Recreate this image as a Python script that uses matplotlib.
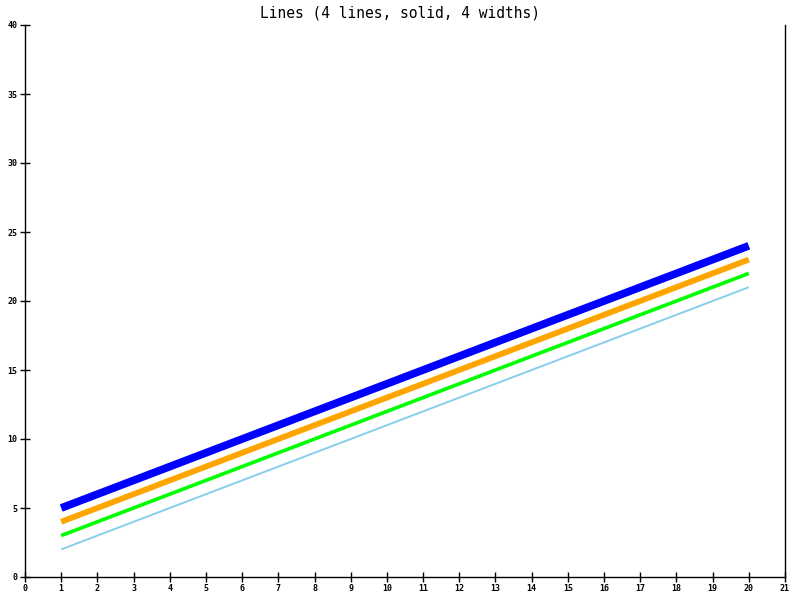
import matplotlib
matplotlib.use("Agg")
import matplotlib.pyplot as plt

x = [1, 2, 3, 4, 5, 6, 7, 8, 9, 10, 11, 12, 13, 14, 15, 16, 17, 18, 19, 20]
skyblue_vals = [2, 3, 4, 5, 6, 7, 8, 9, 10, 11, 12, 13, 14, 15, 16, 17, 18, 19, 20, 21]
green_vals = [3, 4, 5, 6, 7, 8, 9, 10, 11, 12, 13, 14, 15, 16, 17, 18, 19, 20, 21, 22]
orange_vals = [4, 5, 6, 7, 8, 9, 10, 11, 12, 13, 14, 15, 16, 17, 18, 19, 20, 21, 22, 23]
blue_vals = [5, 6, 7, 8, 9, 10, 11, 12, 13, 14, 15, 16, 17, 18, 19, 20, 21, 22, 23, 24]

x_ticks = list(range(0, 22))
y_ticks = [0, 5, 10, 15, 20, 25, 30, 35, 40]
title = "Lines (4 lines, solid, 4 widths)"

fig = plt.figure(figsize=(8, 6), dpi=100)
ax = fig.add_axes([25 / 800, 23 / 600, 760 / 800, 552 / 600])

ax.plot(x, skyblue_vals, color="#87ceeb", lw=1.4, solid_capstyle="butt")
ax.plot(x, green_vals, color="#00ff00", lw=2.6, solid_capstyle="butt")
ax.plot(x, orange_vals, color="#ffa500", lw=4.2, solid_capstyle="butt")
ax.plot(x, blue_vals, color="#0000ff", lw=5.6, solid_capstyle="butt")

ax.set_xlim(0, 21)
ax.set_ylim(0, 40)
ax.set_xticks(x_ticks)
ax.set_yticks(y_ticks)
ax.spines["top"].set_visible(False)
for s in ["left", "bottom", "right"]:
    ax.spines[s].set_linewidth(1.0)
ax.tick_params(direction="inout", length=6.5, width=1.0, labelsize=6,
               pad=2)
for lab in ax.get_xticklabels() + ax.get_yticklabels():
    lab.set_family("DejaVu Sans Mono")
    lab.set_fontweight("bold")

fig.text(0.5, 1 - 13 / 600, title, ha="center", va="center",
         family="DejaVu Sans Mono", fontsize=10.5)

fig.savefig("out.png", dpi=100)
